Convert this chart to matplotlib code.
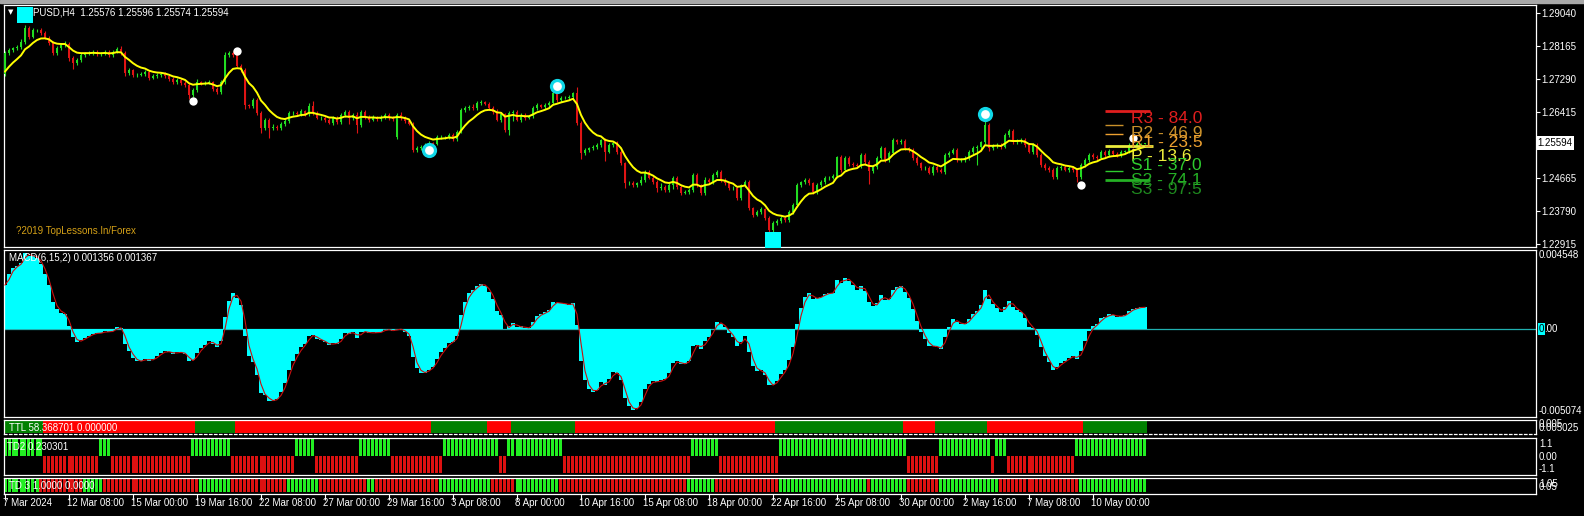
import numpy as np
import pandas as pd
import matplotlib
matplotlib.use('Agg')
import matplotlib.pyplot as plt
import matplotlib.transforms as mtransforms

plt.rcParams['font.family'] = ['Liberation Sans', 'DejaVu Sans']

# ---- candles (H4), closes ----
close_a = [1.2798, 1.2806, 1.2811, 1.2814, 1.2827, 1.2864, 1.2841, 1.2859, 1.2859, 1.2851,
           1.2838, 1.2825, 1.2798, 1.2811, 1.2819, 1.2822, 1.2785, 1.2772, 1.2780, 1.2793,
           1.2798, 1.2798, 1.2801, 1.2796, 1.2796, 1.2801, 1.2793, 1.2801, 1.2809, 1.2798,
           1.2745, 1.2753, 1.2740, 1.2740, 1.2743, 1.2748, 1.2732, 1.2737, 1.2740, 1.2743,
           1.2737, 1.2729, 1.2721, 1.2727, 1.2719, 1.2713, 1.2687, 1.2700, 1.2721, 1.2719,
           1.2719, 1.2721, 1.2703, 1.2695, 1.2721, 1.2793, 1.2798, 1.2793, 1.2764, 1.2753,
           1.2660, 1.2658, 1.2674, 1.2639, 1.2599, 1.2621, 1.2599, 1.2602, 1.2599, 1.2610,
           1.2618, 1.2639]
close_b = [1.2639, 1.2636, 1.2644, 1.2636, 1.2658, 1.2639, 1.2626, 1.2626, 1.2621, 1.2613,
           1.2626, 1.2615, 1.2634, 1.2642, 1.2626, 1.2634, 1.2607, 1.2642, 1.2628, 1.2621,
           1.2628, 1.2623, 1.2628, 1.2634, 1.2626, 1.2623, 1.2634, 1.2626, 1.2618, 1.2610,
           1.2541, 1.2546, 1.2549, 1.2554, 1.2559, 1.2557, 1.2575, 1.2575, 1.2575, 1.2581,
           1.2570, 1.2589, 1.2647, 1.2652, 1.2655, 1.2652, 1.2666, 1.2668, 1.2663, 1.2652,
           1.2642, 1.2621, 1.2636, 1.2594, 1.2639, 1.2642, 1.2621, 1.2634, 1.2626, 1.2631,
           1.2652, 1.2660, 1.2655, 1.2660, 1.2666, 1.2692, 1.2674, 1.2679, 1.2679, 1.2682,
           1.2692]
close_c = [1.2613, 1.2533, 1.2541, 1.2546, 1.2549, 1.2554, 1.2567, 1.2536, 1.2554, 1.2559,
           1.2536, 1.2506, 1.2453, 1.2453, 1.2448, 1.2453, 1.2461, 1.2483, 1.2467, 1.2456,
           1.2440, 1.2443, 1.2435, 1.2448, 1.2467, 1.2443, 1.2427, 1.2430, 1.2435, 1.2475,
           1.2448, 1.2427, 1.2461, 1.2456, 1.2475, 1.2483, 1.2461, 1.2453, 1.2440, 1.2440,
           1.2414, 1.2448, 1.2456, 1.2387, 1.2369, 1.2377, 1.2384, 1.2361, 1.2329, 1.2347,
           1.2353, 1.2361, 1.2355, 1.2377, 1.2395, 1.2448, 1.2456, 1.2461, 1.2453, 1.2430,
           1.2448, 1.2456, 1.2467, 1.2467, 1.2472, 1.2522, 1.2488, 1.2520, 1.2504, 1.2501,
           1.2499]
close_d = [1.2528, 1.2509, 1.2485, 1.2496, 1.2520, 1.2546, 1.2514, 1.2533, 1.2567, 1.2562,
           1.2565, 1.2546, 1.2541, 1.2520, 1.2506, 1.2493, 1.2493, 1.2480, 1.2496, 1.2488,
           1.2483, 1.2528, 1.2533, 1.2541, 1.2514, 1.2514, 1.2520, 1.2536, 1.2546, 1.2549,
           1.2562, 1.2607, 1.2546, 1.2552, 1.2554, 1.2549, 1.2581, 1.2591, 1.2562, 1.2565,
           1.2567, 1.2554, 1.2536, 1.2554, 1.2528, 1.2501, 1.2493, 1.2488, 1.2469, 1.2493,
           1.2496, 1.2488, 1.2493, 1.2488, 1.2469, 1.2501, 1.2514, 1.2528, 1.2522, 1.2520,
           1.2536, 1.2528, 1.2538, 1.2530, 1.2528, 1.2536, 1.2538, 1.2554, 1.2552, 1.2557,
           1.25576, 1.25594]
first_open = 1.2743
gap_opens = {98: 1.2575}

# wick lengths in pips
upper_wick = [5, 6, 4, 5, 7, 9, 5, 6, 4, 5, 6, 4, 5, 6, 5, 7, 4, 5, 6, 5,
              4, 6, 5, 4, 6, 5, 4, 6, 5, 7, 6, 5, 4, 5, 6, 4, 5, 6, 4, 5,
              5, 4, 6, 5, 4, 5, 6, 5, 7, 4, 5, 6, 4, 5, 6, 7, 5, 6, 8, 4,
              5, 4, 6, 5, 4, 6, 5, 7, 4, 5, 6, 5, 4, 6, 5, 4, 7, 12, 5, 4,
              6, 5, 4, 6, 5, 4, 6, 5, 7, 5, 4, 6, 5, 4, 6, 5, 4, 6, 5, 7,
              5, 4, 6, 5, 4, 6, 5, 4, 6, 5, 4, 6, 5, 4, 6, 5, 4, 7, 5, 6,
              4, 6, 5, 8, 5, 4, 6, 5, 4, 6, 5, 4, 6, 5, 4, 6, 5, 4, 12, 5,
              6, 5, 4, 15, 5, 6, 4, 5, 6, 4, 5, 6, 4, 5, 6, 4, 5, 6, 4, 10,
              5, 6, 4, 5, 10, 4, 5, 6, 4, 5, 6, 4, 5, 6, 4, 8, 5, 6, 4, 5,
              6, 4, 5, 6, 4, 5, 6, 4, 5, 6, 4, 5, 6, 4, 5, 6, 4, 5, 6, 4,
              5, 6, 4, 5, 6, 4, 5, 6, 4, 5, 6, 4, 5, 6, 4, 5, 6, 4, 5, 6,
              4, 5, 6, 4, 5, 6, 4, 5, 6, 4, 5, 6, 4, 5, 6, 4, 5, 6, 4, 5,
              6, 4, 5, 6, 4, 12, 6, 4, 5, 6, 4, 5, 6, 4, 5, 6, 4, 5, 6, 4,
              5, 6, 4, 5, 6, 4, 5, 6, 4, 5, 6, 4, 5, 6, 4, 5, 6, 4, 5, 6,
              4, 5, 8, 4, 3, 0.2]
lower_wick = [6, 4, 5, 6, 4, 5, 6, 4, 5, 6, 4, 5, 6, 4, 5, 6, 7, 15, 5, 6,
              5, 6, 4, 5, 6, 4, 5, 6, 4, 5, 8, 4, 5, 6, 4, 5, 6, 4, 5, 6,
              4, 5, 6, 4, 5, 6, 10, 5, 4, 6, 5, 4, 6, 5, 6, 4, 5, 6, 4, 5,
              10, 6, 5, 4, 12, 6, 25, 5, 6, 4, 5, 6, 4, 5, 6, 4, 5, 6, 4, 5,
              6, 4, 5, 6, 4, 5, 15, 6, 20, 4, 5, 6, 4, 5, 6, 4, 5, 6, 4, 5,
              6, 4, 6, 5, 6, 4, 5, 6, 4, 5, 6, 4, 5, 6, 4, 5, 6, 4, 5, 6,
              4, 5, 6, 4, 5, 6, 12, 20, 4, 5, 6, 4, 5, 6, 4, 5, 6, 4, 5, 6,
              4, 5, 6, 5, 15, 5, 6, 4, 5, 6, 25, 4, 5, 6, 4, 12, 5, 6, 4, 5,
              6, 4, 5, 10, 4, 5, 6, 10, 5, 6, 4, 5, 6, 4, 5, 6, 4, 5, 6, 4,
              5, 6, 4, 5, 6, 4, 5, 6, 4, 5, 6, 15, 12, 5, 6, 4, 5, 6, 4, 5,
              6, 4, 5, 6, 4, 5, 6, 4, 5, 6, 4, 5, 6, 4, 5, 6, 35, 5, 6, 4,
              5, 6, 4, 5, 6, 4, 5, 6, 4, 5, 6, 4, 5, 6, 4, 5, 6, 4, 5, 6,
              4, 5, 6, 45, 5, 6, 8, 4, 5, 6, 4, 5, 6, 4, 5, 6, 4, 5, 6, 4,
              5, 6, 4, 5, 6, 4, 5, 6, 12, 5, 6, 4, 5, 6, 4, 5, 6, 4, 5, 6,
              4, 5, 6, 4, 3, 0.2]

# indicator start states (history before the first visible bar)
ma_start = 1.2735
fast_start = 1.2728
slow_start = 1.2712

# arrow / fractal marks: (bar, price)
white_dots = [(47, 1.26709), (58, 1.28042), (269, 1.24481), (282, 1.25727)]
cyan_rings = [(106, 1.25409), (138, 1.27106), (245, 1.26364)]
cyan_squares = [(5, 1.28976), (192, 1.23035)]

# daily pivots
pivot_names = ['R3', 'R2', 'R1', 'P', 'S1', 'S2', 'S3']
pivot_pips = ['84.0', '46.9', '23.5', '13.6', '37.0', '74.1', '97.5']
pivot_level = [1.26451, 1.26072, 1.25833, 1.25523, 1.24852, 1.24613, None]
pivot_text_at = [1.26250, 1.25852, 1.25603, 1.25231, 1.24993, 1.24613, 1.24367]
pivot_line_end = [286.2, 279.5, 279.5, 287.0, 279.5, 286.2, None]
pivot_colors = ['#e01e1e', '#c8902a', '#eda030', '#ecec3c', '#2ecc2e', '#25b025', '#1f8a1f']

# coloured strips, run lengths in bars
ttl_state = ['g', 'r', 'g', 'r', 'g', 'r', 'g', 'r', 'g', 'r', 'g', 'r', 'g']
ttl_len = [10, 38, 10, 49, 14, 6, 16, 50, 32, 8, 13, 24, 16]
td2_state = ['g', 'r', 'g', 'r', 'g', 'r', 'g', 'r', 'g', 'r', 'g', 'r',
             'g', 'r', 'g', 'r', 'g', 'r', 'g', 'r', 'g', 'r', 'g']
td2_len = [10, 14, 3, 20, 10, 16, 5, 11, 8, 13, 14, 2, 14, 32, 7, 15, 32, 8, 13, 1, 3, 17, 18]
td3_state = ['g', 'r', 'g', 'r', 'g', 'r', 'g', 'r', 'g', 'r', 'g', 'r',
             'g', 'r', 'g', 'r', 'g', 'r', 'g', 'r', 'g', 'r', 'g']
td3_len = [9, 11, 5, 24, 8, 14, 8, 12, 2, 16, 13, 6, 11, 32, 7, 16, 22, 1, 9, 8, 15, 20, 17]

price_ticks = [1.29040, 1.28165, 1.27290, 1.26415, 1.24665, 1.23790, 1.22915]
time_labels = ['7 Mar 2024', '12 Mar 08:00', '15 Mar 00:00', '19 Mar 16:00', '22 Mar 08:00',
               '27 Mar 00:00', '29 Mar 16:00', '3 Apr 08:00', '8 Apr 00:00', '10 Apr 16:00',
               '15 Apr 08:00', '18 Apr 00:00', '22 Apr 16:00', '25 Apr 08:00', '30 Apr 00:00',
               '2 May 16:00', '7 May 08:00', '10 May 00:00']

# ---- derived series ----
close = np.array(close_a + close_b + close_c + close_d)
n = len(close)
x = np.arange(n)
open_ = np.r_[first_open, close[:-1]]
for k, v in gap_opens.items():
    open_[k] = v
high = np.maximum(open_, close) + np.array(upper_wick) * 0.0001
low = np.minimum(open_, close) - np.array(lower_wick) * 0.0001


def ema(values, span, start):
    s = pd.Series(np.r_[start, values]).ewm(span=span, adjust=False).mean()
    return s.values[1:]


ma = ema(close, 8, ma_start)
macd = ema(close, 6, fast_start) - ema(close, 15, slow_start)
signal = pd.Series(macd).rolling(2, min_periods=1).mean().values

GREEN = '#22dd22'
RED = '#e01414'
STRIP_G = '#22ee22'
STRIP_R = '#dd1111'
CYAN = '#00ffff'
AX_X = 1539  # left edge of the right-hand scale texts (px)

# ---- figure layout (pixel boxes) ----
W, H = 1584, 516
fig = plt.figure(figsize=(W / 100, H / 100), dpi=100, facecolor='black')


def box(y0, y1, x0=4, x1=1536):
    return [x0 / W, 1 - y1 / H, (x1 - x0) / W, (y1 - y0) / H]


ax_p = fig.add_axes(box(5, 247))
ax_m = fig.add_axes(box(250, 416.5))
ax_t = fig.add_axes(box(419.5, 434))
ax_2 = fig.add_axes(box(437.5, 475))
ax_3 = fig.add_axes(box(477.5, 493.5))

for ax in [ax_p, ax_m, ax_t, ax_2, ax_3]:
    ax.set_facecolor('black')
    ax.set_xlim(-0.25, 382.75)
    for sp in ax.spines.values():
        sp.set_color('white')
        sp.set_linewidth(0.9)
    ax.set_xticks([])
    ax.set_yticks([])

fig.patches.append(plt.Rectangle((0, 1 - 2.5 / H), 1, 2.5 / H, transform=fig.transFigure,
                                 color='#a8a8a8', zorder=0))

# ---- price panel ----
ax_p.set_ylim(1.22837, 1.29254)
col = np.where(close >= open_, GREEN, RED)
ax_p.vlines(x, low, high, colors=col, lw=0.8, zorder=2)
body = np.maximum(np.abs(close - open_), 0.00004)
ax_p.bar(x, body, bottom=np.minimum(open_, close), width=0.7, color=col, linewidth=0, zorder=3)
ax_p.plot(x, ma, color='#ffff00', lw=1.4, zorder=4)

for name, pips, lvl, ty, xe, c in zip(pivot_names, pivot_pips, pivot_level, pivot_text_at,
                                      pivot_line_end, pivot_colors):
    if lvl is not None:
        thick = xe > 283
        ax_p.hlines(lvl, 275, xe, color=c, lw=2.0 if thick else 1.0, zorder=5)
    ax_p.text(281.5, ty, f'{name} - {pips}', color=c, fontsize=12.5, ha='left', va='center',
              zorder=7)

bx, by = zip(*white_dots)
ax_p.scatter(bx, by, s=36, color='white', zorder=6, linewidths=0)
bx, by = zip(*cyan_rings)
ax_p.scatter(bx, by, s=120, color='#10d8e8', zorder=6, linewidths=0)
ax_p.scatter(bx, by, s=40, color='white', zorder=6, linewidths=0)
bx, by = zip(*cyan_squares)
ax_p.scatter(bx, by, s=135, marker='s', color=CYAN, zorder=6, linewidths=0)

ax_p.yaxis.tick_right()
ax_p.set_yticks(price_ticks)
ax_p.set_yticklabels([f'{t:.5f}' for t in price_ticks])
ax_p.tick_params(axis='y', colors='white', length=3, width=0.8, labelsize=7, pad=1)
tr = mtransforms.blended_transform_factory(ax_p.transAxes, ax_p.transData)
ax_p.text(1.0008, close[-1], f'{close[-1]:.5f}', transform=tr, ha='left', va='center',
          fontsize=7, color='black', bbox=dict(facecolor='white', edgecolor='none', pad=1.2))

fig.text(8 / W, 1 - 12.5 / H, '\u25bc', color='white', fontsize=5, ha='left', va='center',
         family='DejaVu Sans')
fig.text(33 / W, 1 - 12.7 / H, 'PUSD,H4  1.25576 1.25596 1.25574 1.25594', color='white',
         fontsize=7, ha='left', va='center')
fig.text(16 / W, 1 - 231 / H, '?2019 TopLessons.In/Forex', color='#d4a017', fontsize=7,
         ha='left', va='center')

# ---- MACD panel ----
ax_m.set_ylim(-0.005074, 0.004548)
ax_m.axhline(0, color='#20b0b0', lw=0.9, zorder=1)
ax_m.bar(x, macd, width=1.02, color=CYAN, linewidth=0, zorder=2)
ax_m.plot(x, signal, color='#c81010', lw=0.8, zorder=3)
fig.text(9 / W, 1 - 258 / H, 'MACD(6,15,2) 0.001356 0.001367', color='white', fontsize=7,
         ha='left', va='center')
fig.text(AX_X / W, 1 - 255 / H, '0.004548', color='white', fontsize=7, ha='left', va='center')
fig.text(AX_X / W, 1 - 410.5 / H, '-0.005074', color='white', fontsize=7, ha='left',
         va='center')
fig.text(1539 / W, 1 - 329 / H, '0', color='black', fontsize=7, ha='left', va='center',
         bbox=dict(facecolor=CYAN, edgecolor='none', pad=0.6))
fig.text(1544 / W, 1 - 329 / H, '.00', color='white', fontsize=7, ha='left', va='center')

# ---- TTL strip ----
ttl_col = np.repeat([('#ff0000' if s == 'r' else '#008000') for s in ttl_state], ttl_len)
ax_t.set_ylim(-0.04, 1.06)
ax_t.bar(x, 1, width=1.02, color=ttl_col, linewidth=0)
ax_t.spines['bottom'].set_linestyle((0, (2, 2)))
fig.text(9 / W, 1 - 428 / H, 'TTL 58.368701 0.000000', color='white', fontsize=7,
         ha='left', va='center')
fig.text(AX_X / W, 1 - 424 / H, '0.005', color='white', fontsize=7, ha='left', va='center')
fig.text(AX_X / W, 1 - 428 / H, '0.005025', color='white', fontsize=7, ha='left', va='center')

# ---- TD2 strip ----
td2_val = np.repeat([(1 if s == 'g' else -1) for s in td2_state], td2_len)
ax_2.set_ylim(-1.1, 1.1)
ax_2.bar(x, td2_val, width=0.75, color=np.where(td2_val > 0, STRIP_G, STRIP_R), linewidth=0)
fig.text(7 / W, 1 - 446.5 / H, 'TD2 0.230301', color='white', fontsize=7, ha='left',
         va='center')
for lab, yy in [('1.1', 444), ('0.00', 456.5), ('-1.1', 469)]:
    fig.text(AX_X / W, 1 - yy / H, lab, color='white', fontsize=7, ha='left', va='center')

# ---- TD3 strip ----
td3_g = np.repeat([s == 'g' for s in td3_state], td3_len)
ax_3.set_ylim(-0.12, 1.12)
ax_3.bar(x, 1, width=0.75, color=np.where(td3_g, STRIP_G, STRIP_R), linewidth=0)
fig.text(9 / W, 1 - 486 / H, 'TD 3 1.0000 0.0000', color='white', fontsize=7, ha='left',
         va='center')
fig.text(AX_X / W, 1 - 484 / H, '1.05', color='white', fontsize=7, ha='left', va='center')
fig.text(AX_X / W, 1 - 487 / H, '0.05', color='white', fontsize=7, ha='left', va='center')

# time axis
tick_bars = np.arange(len(time_labels)) * 16
ax_3.set_xticks(tick_bars)
ax_3.tick_params(axis='x', direction='out', length=4, width=0.8, color='white',
                 labelbottom=False)
trx = mtransforms.blended_transform_factory(ax_3.transData, ax_3.transAxes)
for b, lab in zip(tick_bars, time_labels):
    ax_3.text(b - 0.4, -0.57, lab, transform=trx, color='white', fontsize=7, ha='left',
              va='center')

fig.savefig('out.png', dpi=100, facecolor='black')
